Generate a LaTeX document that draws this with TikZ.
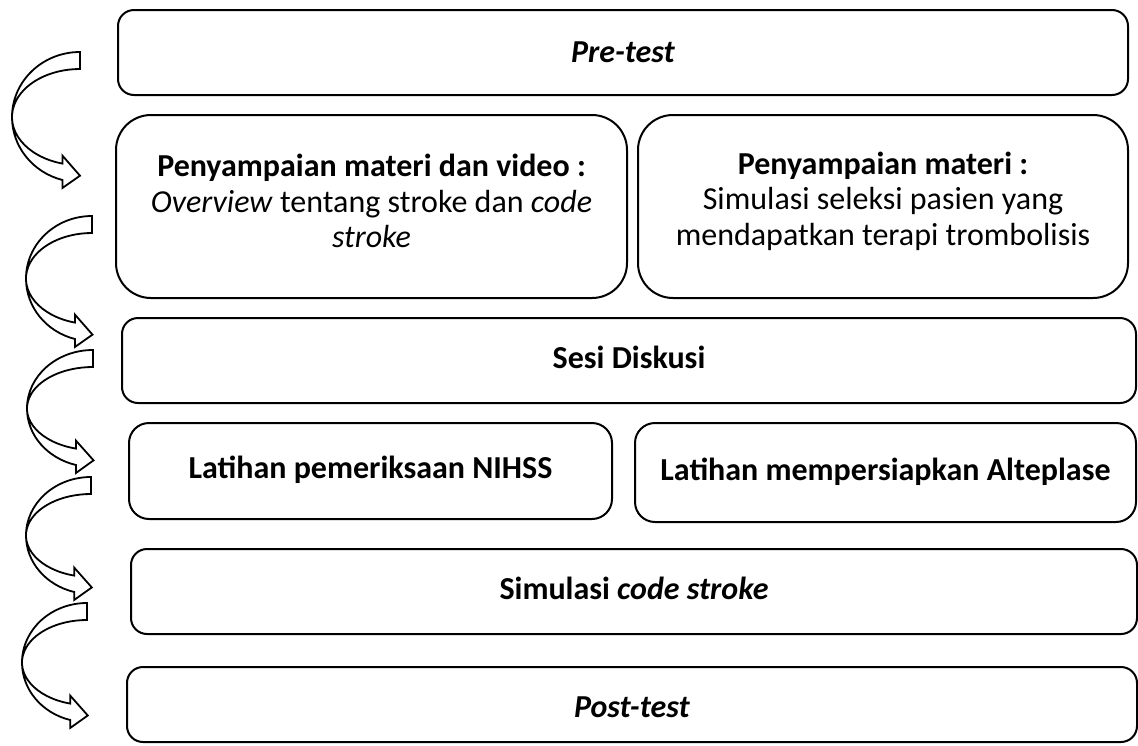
\documentclass[tikz,border=0pt]{standalone}
\usepackage{fontspec}
\setmainfont{Carlito}
\begin{document}
\begin{tikzpicture}[x=1pt,y=-1pt,
  box/.style={draw=black,line width=2pt,rounded corners=#1,inner sep=0pt,align=center,
    text height=22pt,text depth=7pt,font=\fontsize{32}{36}\selectfont},
  boxtext/.style={align=center,font=\fontsize{32}{35.5}\selectfont,inner sep=0pt},
  bentshape/.style={draw=black,fill=white,line width=1.8pt,line join=miter}]
\useasboundingbox (0,0) rectangle (1138,745);
\newcommand\bentarrow[4]{%
 \pgfmathsetmacro\rx{#1-#3}%
 \pgfmathsetmacro\ryo{(#4-8)/1.966}%
 \pgfmathsetmacro\ryi{\ryo-17}%
 \pgfmathsetmacro\cy{#2+\ryo}%
 \pgfmathsetmacro\ex{#1+\rx*cos(105)}%
 \pgfmathsetmacro\eyo{\cy+\ryo*sin(105)}%
 \pgfmathsetmacro\eyi{\cy+\ryi*sin(105)}%
 \pgfmathsetmacro\rym{(\ryo+\ryi)/2}%
 \pgfmathsetmacro\tx{\rx*sin(105)}%
 \pgfmathsetmacro\ty{-\rym*cos(105)}%
 \pgfmathsetmacro\tn{sqrt(\tx*\tx+\ty*\ty)}%
 \pgfmathsetmacro\tipx{\ex+18*\tx/\tn}%
 \pgfmathsetmacro\tipy{(\eyo+\eyi)/2+18*\ty/\tn}%
 \draw[bentshape] (#1,#2) arc[start angle=-90,end angle=-255,x radius=\rx,y radius=\ryo]
   -- (\ex,\eyo+8) -- (\tipx,\tipy) -- (\ex,\eyi-8) -- (\ex,\eyi)
   arc[start angle=-255,end angle=-90,x radius=\rx,y radius=\ryi] -- cycle;
}
% boxes
\node[box=16pt,minimum width=1010pt,minimum height=85pt,text height=26pt] (pre) at (623,52.5) {\textbf{\textit{Pre-test}}};
\node[box=35pt,minimum width=511pt,minimum height=183pt] (mat1) at (371.5,206.5) {};
\node[boxtext] (mat1t) at (371.5,201)
  {\textbf{Penyampaian materi dan video :}\\\textit{Overview} tentang stroke dan \textit{code}\\\textit{stroke}};
\node[box=35pt,minimum width=490pt,minimum height=183pt] (mat2) at (883,206.5) {};
\node[boxtext] (mat2t) at (883,201)
  {\textbf{Penyampaian materi :}\\Simulasi seleksi pasien yang\\mendapatkan terapi trombolisis};
\node[box=16pt,minimum width=1014pt,minimum height=85pt] (sesi) at (629,360.5) {\textbf{Sesi Diskusi}};
\node[box=20pt,minimum width=483pt,minimum height=96pt] (nihss) at (370.5,471) {\textbf{Latihan pemeriksaan NIHSS}};
\node[box=20pt,minimum width=501pt,minimum height=99pt] (alte) at (885.5,472.5) {\textbf{Latihan mempersiapkan Alteplase}};
\node[box=16pt,minimum width=1006pt,minimum height=85pt] (sim) at (634,591.5) {\textbf{Simulasi \textit{code stroke}}};
\node[box=16pt,minimum width=1010pt,minimum height=75pt,text height=33pt] (post) at (632,704.5) {\textbf{\textit{Post-test}}};
% curved arrows
\bentarrow{80}{52}{12}{136}
\bentarrow{92}{216}{26}{131}
\bentarrow{93}{350}{27}{123}
\bentarrow{91}{477}{26}{123}
\bentarrow{87}{603}{22}{125}
\end{tikzpicture}
\end{document}
